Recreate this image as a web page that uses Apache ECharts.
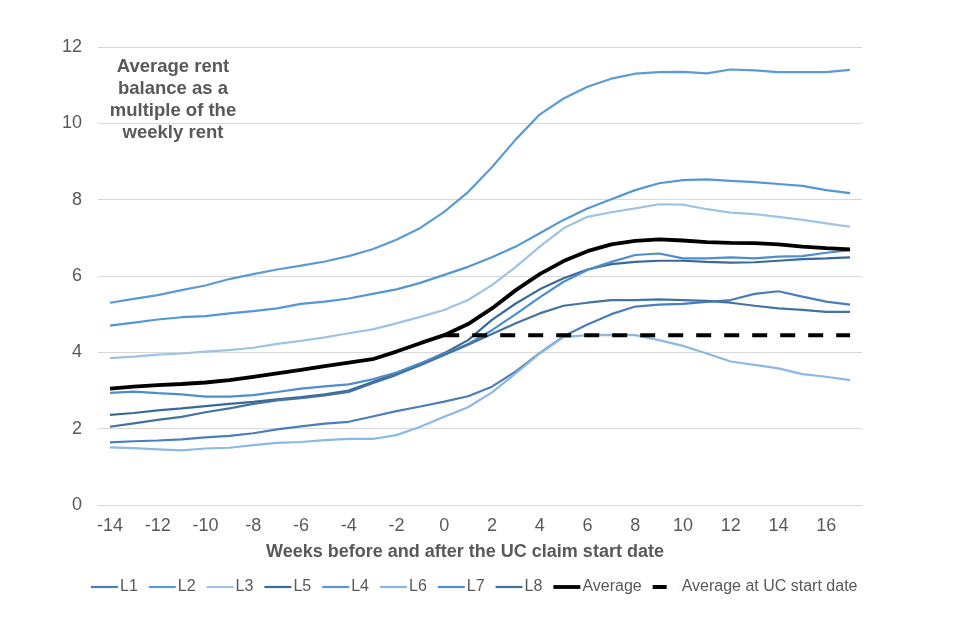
<!DOCTYPE html>
<html>
<head>
<meta charset="utf-8">
<script src="https://cdn.jsdelivr.net/npm/echarts@6/dist/echarts.min.js"></script>
<style>html,body{margin:0;padding:0;background:#fff;}#c{width:960px;height:640px;}</style>
</head>
<body>
<div id="c"></div>
<script>
var weeks = [-14,-13,-12,-11,-10,-9,-8,-7,-6,-5,-4,-3,-2,-1,0,1,2,3,4,5,6,7,8,9,10,11,12,13,14,15,16,17];
var L1 = [1.64,1.67,1.69,1.72,1.77,1.81,1.88,1.98,2.06,2.13,2.18,2.32,2.46,2.58,2.71,2.85,3.10,3.50,3.98,4.42,4.73,5.00,5.20,5.25,5.27,5.32,5.37,5.53,5.60,5.46,5.33,5.25];
var L2 = [5.30,5.40,5.50,5.63,5.75,5.92,6.05,6.17,6.27,6.38,6.52,6.70,6.95,7.26,7.68,8.20,8.85,9.58,10.23,10.65,10.96,11.17,11.30,11.34,11.35,11.31,11.41,11.39,11.34,11.34,11.34,11.40];
var L3 = [3.85,3.89,3.94,3.97,4.02,4.06,4.12,4.22,4.30,4.39,4.50,4.60,4.76,4.93,5.11,5.37,5.76,6.24,6.77,7.25,7.55,7.67,7.77,7.88,7.87,7.75,7.66,7.62,7.55,7.47,7.38,7.29];
var L5 = [2.36,2.41,2.48,2.53,2.59,2.65,2.70,2.77,2.83,2.90,3.00,3.22,3.45,3.70,3.98,4.32,4.85,5.28,5.65,5.94,6.17,6.31,6.37,6.40,6.40,6.37,6.35,6.36,6.40,6.44,6.46,6.49];
var L4 = [4.70,4.78,4.86,4.92,4.95,5.02,5.08,5.15,5.27,5.33,5.41,5.53,5.65,5.82,6.03,6.24,6.49,6.77,7.12,7.47,7.77,8.01,8.25,8.43,8.51,8.53,8.49,8.46,8.41,8.36,8.25,8.17];
var L6 = [1.51,1.49,1.46,1.43,1.48,1.50,1.57,1.63,1.65,1.70,1.73,1.73,1.83,2.05,2.31,2.56,2.95,3.45,3.97,4.40,4.45,4.46,4.45,4.32,4.17,3.97,3.76,3.67,3.58,3.43,3.36,3.27];
var L7 = [2.94,2.97,2.93,2.90,2.84,2.84,2.88,2.96,3.05,3.11,3.16,3.29,3.47,3.71,3.96,4.22,4.58,5.00,5.44,5.85,6.16,6.37,6.55,6.59,6.46,6.46,6.49,6.46,6.51,6.52,6.61,6.68];
var L8 = [2.05,2.14,2.23,2.31,2.43,2.53,2.65,2.74,2.80,2.87,2.96,3.19,3.41,3.66,3.93,4.20,4.48,4.76,5.02,5.22,5.30,5.37,5.37,5.39,5.37,5.35,5.30,5.22,5.15,5.11,5.06,5.06];
var average = [3.05,3.10,3.14,3.17,3.21,3.27,3.36,3.45,3.54,3.64,3.73,3.82,4.02,4.24,4.45,4.74,5.15,5.63,6.05,6.39,6.65,6.83,6.92,6.96,6.93,6.89,6.87,6.86,6.83,6.77,6.73,6.70];
var avgAtStart = [null,null,null,null,null,null,null,null,null,null,null,null,null,null,4.45,4.45,4.45,4.45,4.45,4.45,4.45,4.45,4.45,4.45,4.45,4.45,4.45,4.45,4.45,4.45,4.45,4.45];
var yTicks = {min:0, max:12, interval:2};
var annotation = 'Average rent\nbalance as a\nmultiple of the\nweekly rent';
var xTitle = 'Weeks before and after the UC claim start date';

var FONT = '"Liberation Sans", Arial, sans-serif';
var GREY = '#595959';
var ICON_THIN = 'path://M0,0h27v2.2h-27z';
var ICON_THICK = 'path://M0,0h27v3.8h-27z';
var ICON_DASH = 'path://M0,0h14v3.8h-14zM26.95,0h0.05v3.8h-0.05z';

function blue(name, data, color) {
  return {name:name, type:'line', data:data, symbol:'none', smooth:false,
    lineStyle:{color:color, width:2.2}, itemStyle:{color:color}, z:2};
}

var legendNames = ['L1','L2','L3','L5','L4','L6','L7','L8'];
var legendData = legendNames.map(function(n){ return {name:n, icon:ICON_THIN}; });
legendData.push({name:'Average', icon:ICON_THICK});
legendData.push({name:'Average at UC start date', icon:ICON_DASH});

var chart = echarts.init(document.getElementById('c'));
chart.setOption({
  animation:false,
  backgroundColor:'#fff',
  title:{
    text: annotation, left:168, top:51, textAlign:'center',
    textStyle:{fontFamily:FONT, fontWeight:'bold', fontSize:18.5, color:GREY, lineHeight:22}
  },
  grid:{left:98, right:98, top:47, bottom:135, containLabel:false},
  legend:{
    left:86, top:574, itemWidth:27, itemHeight:10, itemGap:11, symbolKeepAspect:true,
    textStyle:{fontFamily:FONT, fontSize:16, color:GREY, padding:[0,0,0,-3]},
    data:legendData
  },
  xAxis:{
    type:'category', data:weeks, boundaryGap:true,
    name: xTitle, nameLocation:'middle', nameGap:38,
    nameTextStyle:{fontFamily:FONT, fontWeight:'bold', fontSize:18, color:GREY, padding:[0,30,0,0]},
    axisLine:{show:true, lineStyle:{color:'#d9d9d9', width:1}},
    axisTick:{show:false},
    axisLabel:{interval:1, fontFamily:FONT, fontSize:18, color:GREY, margin:12}
  },
  yAxis:{
    type:'value', min:yTicks.min, max:yTicks.max, interval:yTicks.interval,
    axisLine:{show:false}, axisTick:{show:false},
    axisLabel:{fontFamily:FONT, fontSize:18, color:GREY, margin:16},
    splitLine:{lineStyle:{color:'#d9d9d9', width:1}}
  },
  series:[
    blue('L1', L1, '#4A7EBB'),
    blue('L2', L2, '#5B9BD5'),
    blue('L3', L3, '#9DC3E6'),
    blue('L5', L5, '#3A6898'),
    blue('L4', L4, '#5597D4'),
    blue('L6', L6, '#8DB8E3'),
    blue('L7', L7, '#4F8DCB'),
    blue('L8', L8, '#44739F'),
    {name:'Average', type:'line', data:average, symbol:'none', lineStyle:{color:'#000', width:3.8}, itemStyle:{color:'#000'}, z:4},
    {name:'Average at UC start date', type:'line', data:avgAtStart, symbol:'none', connectNulls:false,
      lineStyle:{color:'#000', width:4, type:[15,13]}, itemStyle:{color:'#000'}, z:5}
  ]
});
</script>
</body>
</html>
